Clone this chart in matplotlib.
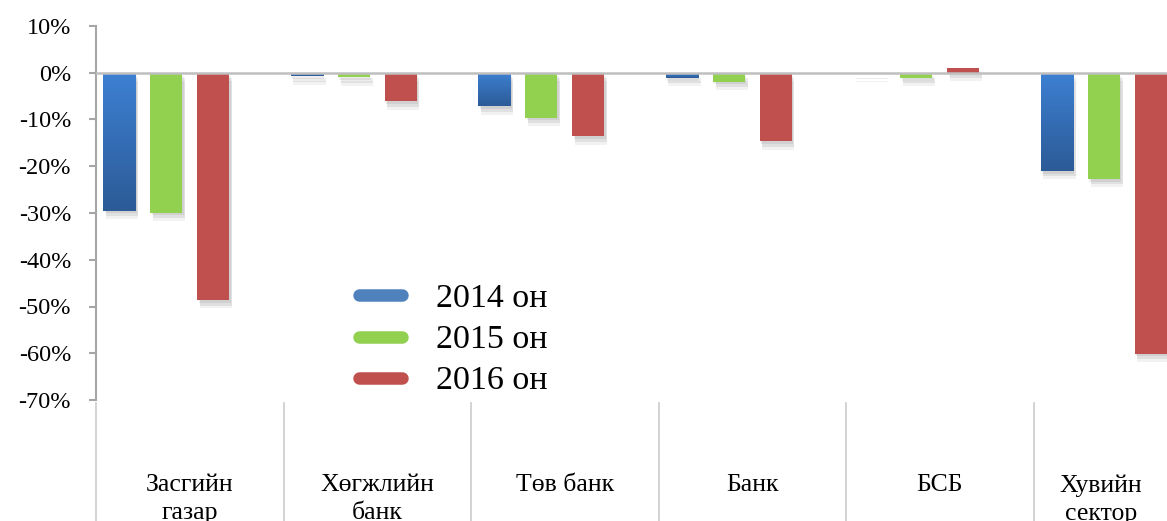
import numpy as np
import matplotlib
matplotlib.use("Agg")
import matplotlib.pyplot as plt
import matplotlib.patheffects as pe
import matplotlib.transforms as mtransforms
from matplotlib.colors import LinearSegmentedColormap
from matplotlib.lines import Line2D

plt.rcParams['font.family'] = ['Liberation Serif', 'DejaVu Serif']
plt.rcParams['axes.unicode_minus'] = False

categories = ['Засгийн\nгазар', 'Хөгжлийн\nбанк', 'Төв банк', 'Банк', 'БСБ', 'Хувийн\nсектор']
series_names = ['2014 он', '2015 он', '2016 он']
y2014 = [-0.295, -0.008, -0.072, -0.011, -0.001, -0.210]
y2015 = [-0.299, -0.010, -0.096, -0.019, -0.011, -0.227]
y2016 = [-0.486, -0.061, -0.136, -0.147, 0.010, -0.601]
yticks = [0.1, 0.0, -0.1, -0.2, -0.3, -0.4, -0.5, -0.6, -0.7]

bar_colors = ['#3b7dd0', '#92d050', '#c0504d']
legend_colors = ['#4f81bd', '#92d050', '#c0504d']
offsets = [-0.376, -0.125, 0.125]
width = 0.171

fig = plt.figure(figsize=(11.67, 5.21), dpi=100)
ax = fig.add_axes([96 / 1167, 121 / 521, 1125 / 1167, 374 / 521])

x = np.arange(len(categories))
shadow = [pe.SimplePatchShadow(offset=(1, -2), shadow_rgbFace='k', alpha=0.07),
          pe.SimplePatchShadow(offset=(2, -4), shadow_rgbFace='k', alpha=0.07),
          pe.SimplePatchShadow(offset=(2, -6), shadow_rgbFace='k', alpha=0.05),
          pe.Normal()]

blue_cmap = LinearSegmentedColormap.from_list('b', ['#3d80d2', '#2c5b97'])
grad = np.linspace(0, 1, 100).reshape(-1, 1)

for vals, col, off in zip([y2014, y2015, y2016], bar_colors, offsets):
    bars = ax.bar(x + off, vals, width, color=col, zorder=2)
    for b in bars:
        b.set_path_effects(shadow)
    if col == bar_colors[0]:
        for b in bars:
            bx, by = b.get_x(), b.get_y()
            bw, bh = b.get_width(), b.get_height()
            lo, hi = min(by, by + bh), max(by, by + bh)
            if hi - lo <= 0:
                continue
            im = ax.imshow(grad, extent=[bx, bx + bw, lo, hi], aspect='auto',
                           cmap=blue_cmap, zorder=2.1)
            im.set_clip_path(b)

ax.set_xlim(-0.5, len(categories) - 0.5)
ax.set_ylim(-0.7, 0.1)
ax.axhline(0, color='#bfbfbf', lw=1.8, zorder=3)

for s in ['top', 'right', 'bottom']:
    ax.spines[s].set_visible(False)
ax.spines['left'].set_color('#a6a6a6')
ax.spines['left'].set_linewidth(1.5)

ax.set_xticks([])
ax.set_yticks(yticks)
ax.set_yticklabels([f"{round(v * 100)}%" for v in yticks], fontsize=17.5)
ax.tick_params(axis='y', direction='out', length=5, width=1.5, color='#a6a6a6', pad=13)

# category separators and labels under the plot
trans = mtransforms.blended_transform_factory(ax.transData, ax.transAxes)
for i in range(len(categories) + 1):
    ax.plot([i - 0.5, i - 0.5], [-0.008, -0.4], transform=trans, color='#d0d0d0',
            lw=1.3, clip_on=False)
# last label is pulled left so it stays inside the visible part
label_x = [float(i) for i in range(len(categories))]
label_x[-1] -= 0.14
for lx, lab in zip(label_x, categories):
    ax.text(lx, -0.198, lab, transform=trans, ha='center', va='top', fontsize=18.5,
            linespacing=1.35)

handles = [Line2D([0], [0], color=c, lw=9, solid_capstyle='round') for c in legend_colors]
fig.legend(handles, series_names, loc='center left', bbox_to_anchor=(359 / 1167, 1 - 340 / 521),
           frameon=False, fontsize=24.5, handlelength=1.25, handletextpad=1.0,
           labelspacing=0.3, borderpad=0, borderaxespad=0)

fig.savefig('out.png', dpi=100)
